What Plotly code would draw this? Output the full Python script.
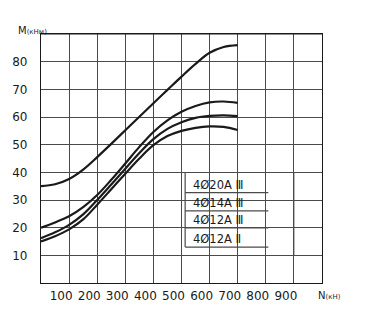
import plotly.graph_objects as go

# Axial force N (kN) at which the moment capacity is tabulated
n_kn = [0, 50, 100, 150, 200, 250, 300, 350, 400, 450, 500, 550, 600, 650, 700]

# Moment capacity M (kN·m) for each reinforcement layout
m_4d20_a3 = [35, 35.7, 37.6, 41, 45.5, 50.3, 55.2, 60.1, 65, 69.8, 74.6, 79.2, 83.2, 85.3, 86]
m_4d14_a3 = [20, 21.9, 24.1, 27.4, 31.8, 37.3, 43.2, 49.2, 54.6, 58.8, 61.9, 64, 65.3, 65.6, 65.1]
m_4d12_a3 = [16.2, 18.3, 21, 24.8, 30, 35.6, 41.3, 47, 52, 55.7, 58.1, 59.7, 60.4, 60.6, 60.3]
m_4d12_a2 = [15, 16.9, 19.4, 23, 28.3, 33.9, 39.5, 45, 49.8, 53.1, 55, 56.1, 56.6, 56.4, 55.3]

series_names = ["4Ø20A Ⅲ", "4Ø14A Ⅲ", "4Ø12A Ⅲ", "4Ø12A Ⅱ"]
series_values = [m_4d20_a3, m_4d14_a3, m_4d12_a3, m_4d12_a2]

x_ticks = [100, 200, 300, 400, 500, 600, 700, 800, 900]
y_ticks = [10, 20, 30, 40, 50, 60, 70, 80]

FONT = "DejaVu Sans"
INK = "#1a1a1a"
GRID = "#4a4a4a"

fig = go.Figure()
for name, vals in zip(series_names, series_values):
    fig.add_trace(go.Scatter(
        x=n_kn, y=vals, name=name, mode="lines",
        line=dict(color=INK, width=2.2, shape="spline", smoothing=1.0),
        hoverinfo="x+y+name",
    ))

shapes = []
# blank area behind the key table (grid interrupted there)
shapes.append(dict(type="rect", xref="x", yref="y", x0=465, x1=997, y0=10.25, y1=39.75,
                   fillcolor="white", line=dict(width=0), layer="below"))
# the N=900 grid line runs through the blank area
shapes.append(dict(type="line", xref="x", yref="y", x0=900, x1=900, y0=10, y1=40,
                   line=dict(color=GRID, width=1), layer="below"))
# key table: left edge and row rules
key_left, key_right = 513, 809
shapes.append(dict(type="line", xref="x", yref="y", x0=key_left, x1=key_left, y0=13, y1=40,
                   line=dict(color=GRID, width=1.2), layer="below"))
for yr in [32.7, 26.1, 19.9, 13.0]:
    shapes.append(dict(type="line", xref="x", yref="y", x0=key_left, x1=key_right, y0=yr, y1=yr,
                       line=dict(color=GRID, width=1.2), layer="below"))

annotations = []
key_rows_y = [35.5, 28.9, 22.6, 16.0]
for name, yr in zip(series_names, key_rows_y):
    annotations.append(dict(x=533, y=yr, xref="x", yref="y", text=name, showarrow=False,
                            xanchor="left", yanchor="middle",
                            font=dict(family=FONT, size=11.5, color=INK)))

# axis titles
annotations.append(dict(x=-0.088, y=1.014, xref="paper", yref="paper", xanchor="left", yanchor="middle",
                        text="M<span style='font-size:7px'>(кНм)</span>", showarrow=False,
                        font=dict(family=FONT, size=10, color=INK)))
annotations.append(dict(x=0.98, y=-0.05, xref="paper", yref="paper", xanchor="left", yanchor="middle",
                        text="N<span style='font-size:7px'>(кН)</span>", showarrow=False,
                        font=dict(family=FONT, size=10, color=INK)))

fig.update_layout(
    width=373, height=336,
    margin=dict(l=41, r=51, t=34, b=53),
    paper_bgcolor="white", plot_bgcolor="white",
    showlegend=False,
    shapes=shapes, annotations=annotations,
    font=dict(family=FONT, size=12, color=INK),
)
fig.update_xaxes(
    range=[0, 1000], tickmode="array", tickvals=x_ticks, ticktext=[str(v) for v in x_ticks],
    showgrid=True, gridcolor=GRID, gridwidth=1,
    showline=True, linecolor=INK, linewidth=1.3, mirror=True,
    ticks="", zeroline=False, ticklabelshift=-8, ticklabelstandoff=1,
    tickfont=dict(family=FONT, size=12, color=INK),
)
fig.update_yaxes(
    range=[0, 90], tickmode="array", tickvals=y_ticks, ticktext=[str(v) for v in y_ticks],
    showgrid=True, gridcolor=GRID, gridwidth=1,
    showline=True, linecolor=INK, linewidth=1.3, mirror=True,
    ticks="", zeroline=False, ticklabelstandoff=10,
    tickfont=dict(family=FONT, size=12, color=INK),
)
# upper grid line at M=90 coincides with the frame
fig.add_hline(y=90, line=dict(color=INK, width=1.1))

fig.write_html("out.html")
